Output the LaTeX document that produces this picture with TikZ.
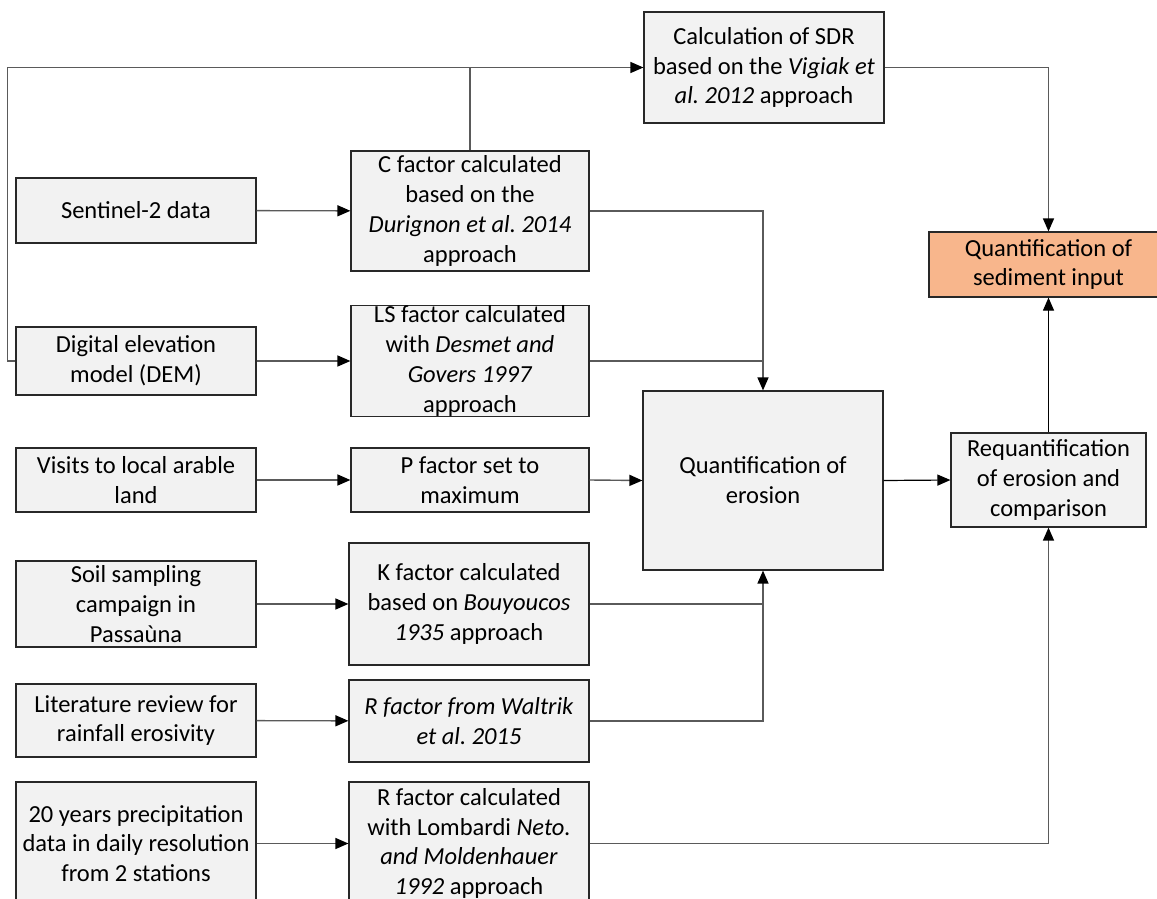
\documentclass[tikz,border=0pt]{standalone}
\usepackage{fontspec}
\setmainfont{Carlito}
\usetikzlibrary{arrows.meta,shadows}
\definecolor{boxfill}{RGB}{242,242,242}
\definecolor{boxline}{RGB}{40,40,40}
\definecolor{linkgray}{RGB}{90,90,90}
\definecolor{sedfill}{RGB}{248,182,140}
\frenchspacing

\begin{document}
\begin{tikzpicture}[x=1pt,y=-1pt,
  box/.style={draw=boxline, line width=1.2pt, fill=boxfill, inner sep=0pt,
    align=center, font=\fontsize{24.5}{29.8}\selectfont,
    drop shadow={shadow xshift=1.2pt, shadow yshift=-1.2pt, opacity=0.35, fill=black!60}},
  link/.style={draw=linkgray, line width=1.4pt},
  darklink/.style={draw=black, line width=1.2pt},
  tip/.style={-{Triangle[length=13pt,width=11pt,color=black]}},
]
\fill[white] (0,0) rectangle (1157,899);
\useasboundingbox (0,0) rectangle (1157,899);

% top: sediment delivery ratio and final result
\node[box, minimum width=240pt, minimum height=111pt] (sdr) at (764,67.5)
  {Calculation of SDR\\based on the \textit{Vigiak et}\\\textit{al. 2012} approach};
\node[box, fill=sedfill, minimum width=239pt, minimum height=65pt] (sed) at (1048.5,264.5)
  {Quantification of\\sediment input};

% input data
\node[box, minimum width=240pt, minimum height=65pt] (sent) at (136,210.5) {Sentinel-2 data};
\node[box, minimum width=240pt, minimum height=68pt] (dem) at (136,361) {Digital elevation\\model (DEM)};
\node[box, minimum width=240pt, minimum height=64pt] (vis) at (136,480) {Visits to local arable\\land};
\node[box, minimum width=240pt, minimum height=86pt] (soil) at (136,604) {Soil sampling\\campaign in\\Passaùna};
\node[box, minimum width=240pt, minimum height=73pt] (lit) at (136,720.5) {Literature review for\\rainfall erosivity};
\node[box, minimum width=240pt, minimum height=123pt] (yrs) at (136,843.5) {20 years precipitation\\data in daily resolution\\from 2 stations};

% RUSLE factors
\node[box, minimum width=238pt, minimum height=120pt] (c) at (470,211)
  {C factor calculated\\based on the\\\textit{Durignon et al. 2014}\\approach};
\node[box, minimum width=238pt, minimum height=110pt] (ls) at (470,361)
  {LS factor calculated\\with \textit{Desmet and}\\\textit{Govers 1997}\\approach};
\node[box, minimum width=238pt, minimum height=64pt] (p) at (470,480) {P factor set to\\maximum};
\node[box, minimum width=240pt, minimum height=122pt] (k) at (469,604)
  {K factor calculated\\based on \textit{Bouyoucos}\\\textit{1935} approach};
\node[box, minimum width=240pt, minimum height=82pt] (walt) at (469,721)
  {\textit{R factor from Waltrik}\\\textit{et al. 2015}};
\node[box, minimum width=240pt, minimum height=123pt] (lomb) at (469,843.5)
  {R factor calculated\\with Lombardi \textit{Neto.}\\\textit{and Moldenhauer}\\\textit{1992} approach};

% erosion and comparison
\node[box, minimum width=240pt, minimum height=179pt] (ero) at (763,480.5) {Quantification of\\erosion};
\node[box, minimum width=195pt, minimum height=94pt] (req) at (1048.5,480) {Requantification\\of erosion and\\comparison};

% connectors
\draw[link, tip] (sent) -- (c);
\draw[link, tip] (dem) -- (ls);
\draw[link, tip] (vis) -- (p);
\draw[link, tip] (soil) -- (k);
\draw[link, tip] (lit) -- (walt);
\draw[link, tip] (yrs) -- (lomb);

\draw[link, tip] (dem.west) -- ++(-8,0) |- (sdr.west);
\coordinate (cjoin) at (c.north |- sdr.west);
\draw[link] (c.north) -- (cjoin);

\draw[link, tip] (c.east) -| (ero.north);
\coordinate (lsjoin) at (ls.east -| ero.north);
\draw[link] (ls.east) -- (lsjoin);
\draw[link, tip] (p.east) -- (ero.west);
\draw[link, tip] (k.east) -| (ero.south);
\coordinate (waltjoin) at (walt.east -| ero.south);
\draw[link] (walt.east) -- (waltjoin) -- (k.east -| ero.south);

\draw[darklink, tip] (ero.east) -- (req.west);
\draw[link, tip] (lomb.east) -| (req.south);
\draw[darklink, tip] (req.north) -- (sed.south);
\draw[link, tip] (sdr.east) -| (sed.north);
\end{tikzpicture}
\end{document}
